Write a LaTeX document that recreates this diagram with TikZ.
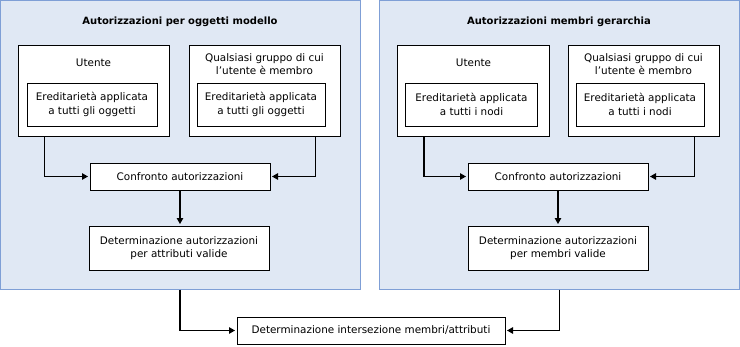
\documentclass[tikz,border=0pt]{standalone}
\usepackage{fontspec}
\setmainfont{DejaVu Sans}
\usetikzlibrary{arrows.meta}
\definecolor{panelfill}{HTML}{E0E8F4}
\definecolor{panelline}{HTML}{7F9FD6}
\begin{document}
\begin{tikzpicture}[x=1pt,y=-1pt,
  txt/.style={font=\fontsize{10.4pt}{13.5pt}\selectfont, align=center, inner sep=0pt},
  ttl/.style={font=\fontsize{10pt}{13pt}\selectfont\bfseries, inner sep=0pt},
  panel/.style={draw=panelline, fill=panelfill, line width=1pt, inner sep=0pt},
  box/.style={draw=black, fill=white, line width=1pt, inner sep=0pt, txt},
  arr/.style={draw=black, line width=1.1pt, -{Triangle[length=6pt,width=6.5pt]}, shorten >=1.5pt}
]
\useasboundingbox (0,0) rectangle (740,346);
% panels
\node[panel, minimum width=360pt, minimum height=289pt] (panelL) at (180,144.5) {};
\node[panel, minimum width=360pt, minimum height=289pt] (panelR) at (559.5,144.5) {};
\node[ttl] (titleL) at (180,22) {Autorizzazioni per oggetti modello};
\node[ttl] (titleR) at (559,22) {Autorizzazioni membri gerarchia};
% left panel
\node[box, minimum width=151pt, minimum height=91pt] (uL) at (93.5,90.5) {};
\node[txt] (uLt) at (93.5,63) {Utente};
\node[box, minimum width=130pt, minimum height=43pt] (uLi) at (92,104.5) {Ereditarietà applicata\\a tutti gli oggetti};
\node[box, minimum width=151pt, minimum height=91pt] (gL) at (264.5,90.5) {};
\node[txt] (gLt) at (264.5,64) {Qualsiasi gruppo di cui\\l'utente è membro};
\node[box, minimum width=128pt, minimum height=43pt] (gLi) at (261,104.5) {Ereditarietà applicata\\a tutti gli oggetti};
\node[box, minimum width=180pt, minimum height=27pt] (cL) at (180,176.5) {Confronto autorizzazioni};
\node[box, minimum width=180pt, minimum height=44pt] (dL) at (179,248) {Determinazione autorizzazioni\\per attributi valide};
% right panel
\node[box, minimum width=152pt, minimum height=91pt] (uR) at (473.5,90.5) {};
\node[txt] (uRt) at (473.5,63) {Utente};
\node[box, minimum width=132pt, minimum height=43pt] (uRi) at (471.5,104.5) {Ereditarietà applicata\\a tutti i nodi};
\node[box, minimum width=151pt, minimum height=91pt] (gR) at (643.5,90.5) {};
\node[txt] (gRt) at (643.5,64) {Qualsiasi gruppo di cui\\l'utente è membro};
\node[box, minimum width=128pt, minimum height=43pt] (gRi) at (640,104.5) {Ereditarietà applicata\\a tutti i nodi};
\node[box, minimum width=180pt, minimum height=27pt] (cR) at (558,176.5) {Confronto autorizzazioni};
\node[box, minimum width=180pt, minimum height=44pt] (dR) at (558,248) {Determinazione autorizzazioni\\per membri valide};
% bottom
\node[box, minimum width=268pt, minimum height=27pt] (bot) at (371,330.5) {Determinazione intersezione membri/attributi};
% connectors
\draw[arr] ([xshift=27pt]uL.south west) |- (cL.west);
\draw[arr] ([xshift=-25pt]gL.south east) |- (cL.east);
\draw[arr] (cL.south) -- (cL.south |- dL.north);
\draw[arr] ([xshift=27pt]uR.south west) |- (cR.west);
\draw[arr] ([xshift=-25pt]gR.south east) |- (cR.east);
\draw[arr] (cR.south) -- (cR.south |- dR.north);
\draw[arr] (panelL.south) |- (bot.west);
\draw[arr] (panelR.south) |- (bot.east);
\end{tikzpicture}
\end{document}
